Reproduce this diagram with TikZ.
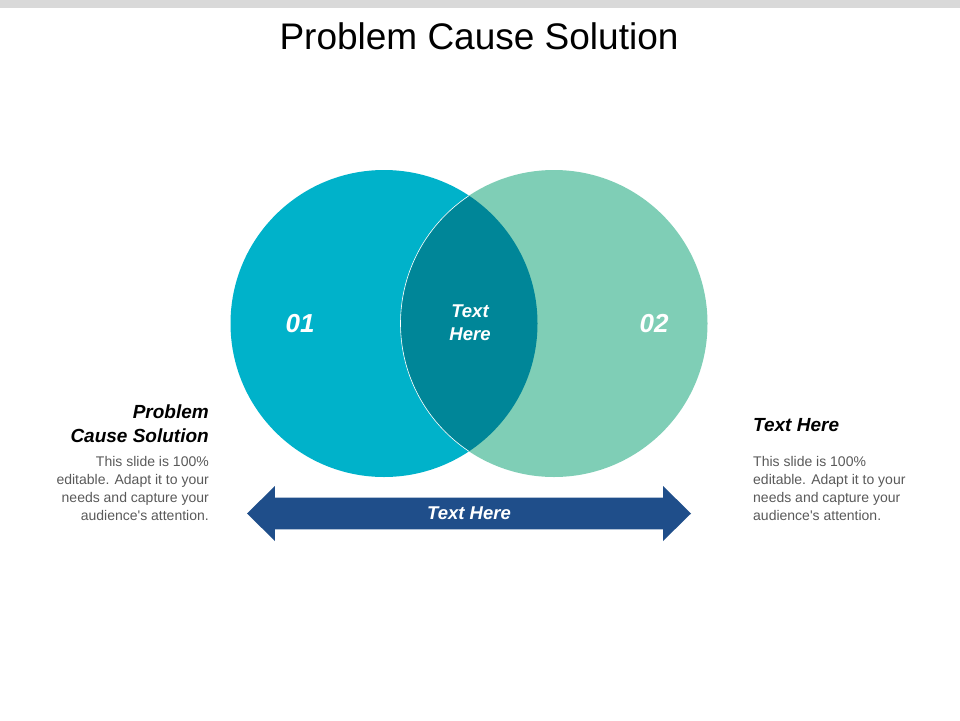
\documentclass[tikz,border=0pt]{standalone}
\usepackage{fontspec}
\setmainfont{Liberation Sans}
\usetikzlibrary{positioning,shapes.arrows}
\definecolor{barGrey}{RGB}{217,217,217}
\definecolor{vennLeft}{RGB}{0,178,202}
\definecolor{vennRight}{RGB}{127,206,182}
\definecolor{vennLens}{RGB}{0,134,152}
\definecolor{arrowBlue}{RGB}{31,78,138}
\definecolor{bodyGrey}{RGB}{89,89,89}
\tikzstyle{venn} = [circle, minimum size=307pt, inner sep=0pt]
\tikzstyle{num} = [inner sep=0pt, anchor=base, text=white, font=\fontsize{26}{30}\selectfont\bfseries\itshape]
\tikzstyle{inlabel} = [inner sep=0pt, anchor=base, text=white, font=\fontsize{18.5}{23}\selectfont\bfseries\itshape]
\tikzstyle{heading} = [inner sep=0pt, font=\fontsize{19}{24}\selectfont\bfseries\itshape]
\tikzstyle{body} = [inner sep=0pt, text=bodyGrey, font=\fontsize{14}{17.7}\selectfont]
\tikzstyle{span} = [double arrow, fill=arrowBlue, inner xsep=0pt, inner ysep=8.5pt, minimum height=444pt, minimum width=55pt,
  double arrow head extend=11pt, double arrow tip angle=89, text=white, font=\fontsize{18.5}{23}\selectfont\bfseries\itshape]

\begin{document}
\begin{tikzpicture}[x=1pt, y=-1pt]
\useasboundingbox (0,0) rectangle (960,720);
\fill[barGrey] (0,0) rectangle (960,8);
\node (title) [inner sep=0pt, anchor=base, font=\fontsize{37}{44}\selectfont] at (479,49) {Problem Cause Solution};

\node (c1) [venn, fill=vennLeft] at (384,323.5) {};
\node (c2) [venn, fill=vennRight] at (554,323.5) {};
\begin{scope}
  \clip (c1.center) circle [radius=153.5pt];
  \fill[vennLens] (c2.center) circle [radius=153.5pt];
  \draw[white, line width=0.6pt] (c2.center) circle [radius=153.5pt];
\end{scope}
\node (n1) [num] at (300,332) {01};
\node (n2) [num] at (654,332) {02};
\node (mid) [inlabel, align=center] at (470,340) {Text\\Here};

\node (both) [span] at (469,513.5) {Text Here};

\node (lhead) [heading, anchor=base east, align=right] at (209,442) {Problem\\Cause Solution};
\node (lbody) [body, anchor=base east, align=right] at (209,520) {This slide is 100\%\\editable. Adapt it to your\\needs and capture your\\audience\textquotesingle s attention.};
\node (rhead) [heading, anchor=base west] at (753,431) {Text Here};
\node (rbody) [body, anchor=base west, align=left] at (753,520) {This slide is 100\%\\editable. Adapt it to your\\needs and capture your\\audience\textquotesingle s attention.};
\end{tikzpicture}
\end{document}
